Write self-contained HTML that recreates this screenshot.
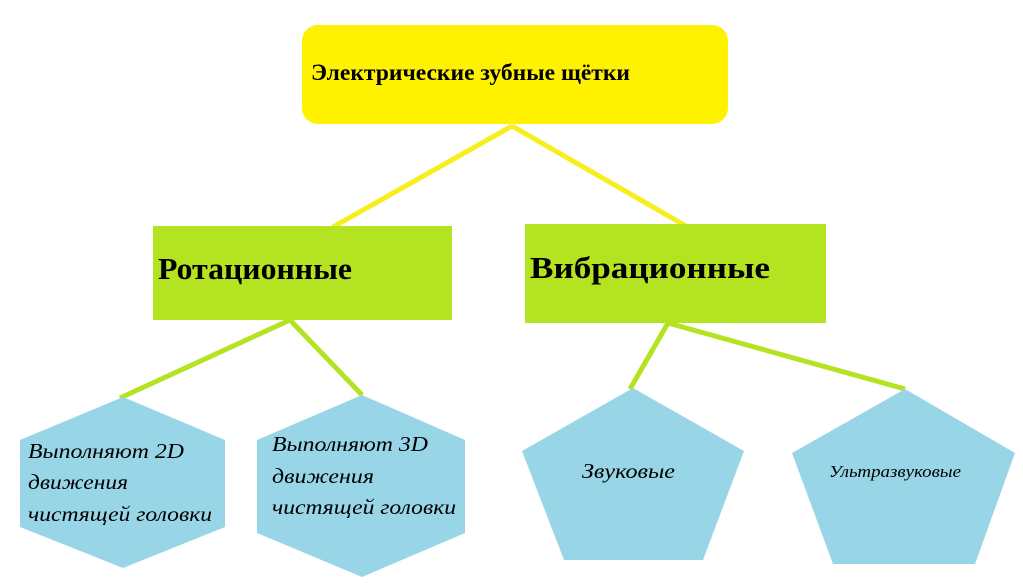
<!DOCTYPE html>
<html><head><meta charset="utf-8"><style>html,body{margin:0;padding:0;background:#fff}svg{display:block}</style></head>
<body>
<svg width="1023" height="587" viewBox="0 0 1023 587" xmlns="http://www.w3.org/2000/svg">
<rect width="1023" height="587" fill="#fff"/>
<g stroke="#f7ee1e" stroke-width="5">
<line x1="512" y1="126" x2="333" y2="227"/>
<line x1="512" y1="126" x2="686" y2="226"/>
</g>
<g stroke="#b4e322" stroke-width="5">
<line x1="290" y1="320" x2="120" y2="398"/>
<line x1="290" y1="320" x2="362" y2="395"/>
<line x1="668" y1="323" x2="630" y2="389"/>
<line x1="668" y1="323" x2="905" y2="389"/>
</g>
<rect x="302" y="25" width="426" height="99" rx="16" fill="#fff200"/>
<rect x="153" y="226" width="299" height="94" fill="#b4e322"/>
<rect x="525" y="224" width="301" height="99" fill="#b4e322"/>
<g fill="#98d6e7">
<polygon points="123,397 225,440 225,527 123,568 20,527 20,440"/>
<polygon points="362,395 465,440 465,533 362,577 257,533 257,440"/>
<polygon points="633,388 744,451 703,560 564,560 522,451"/>
<polygon points="905,389 1015,453 975,564 833,564 792,453"/>
</g>
<g font-family="Liberation Serif, serif" fill="#000">
<text x="311" y="80" font-size="23" font-weight="bold" textLength="319" lengthAdjust="spacingAndGlyphs">Электрические зубные щётки</text>
<text x="158" y="279" font-size="31" font-weight="bold" textLength="194" lengthAdjust="spacingAndGlyphs">Ротационные</text>
<text x="530" y="278" font-size="31" font-weight="bold" textLength="240" lengthAdjust="spacingAndGlyphs">Вибрационные</text>
<g font-style="italic" font-size="21">
<text x="28" y="458" textLength="156" lengthAdjust="spacingAndGlyphs">Выполняют 2D</text>
<text x="28" y="489" textLength="100" lengthAdjust="spacingAndGlyphs">движения</text>
<text x="28" y="521" textLength="184" lengthAdjust="spacingAndGlyphs">чистящей головки</text>
<text x="272" y="451" textLength="156" lengthAdjust="spacingAndGlyphs">Выполняют 3D</text>
<text x="272" y="483" textLength="102" lengthAdjust="spacingAndGlyphs">движения</text>
<text x="272" y="514" textLength="184" lengthAdjust="spacingAndGlyphs">чистящей головки</text>
<text x="582" y="478" textLength="93" lengthAdjust="spacingAndGlyphs">Звуковые</text>
<text x="829" y="477" font-size="17" textLength="132" lengthAdjust="spacingAndGlyphs">Ультразвуковые</text>
</g>
</g>
</svg>
</body></html>
